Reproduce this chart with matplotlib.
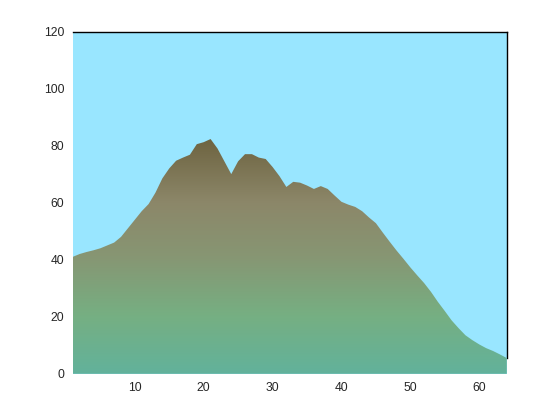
import numpy as np
import matplotlib.pyplot as plt
from matplotlib.colors import LinearSegmentedColormap
from matplotlib.patches import Polygon

# terrain profile
x = np.arange(1, 65)
height = [41, 42, 42.7, 43.3, 44, 45, 46, 48, 51, 54,
          57, 59.5, 63.5, 68.5, 72, 74.7, 75.8, 76.8, 80.5, 81.2,
          82.3, 79, 74.5, 70, 74.5, 77, 77, 75.8, 75.3, 72.5,
          69.3, 65.5, 67.3, 67, 66, 64.8, 65.8, 64.8, 62.5, 60.3,
          59.3, 58.5, 57, 54.8, 52.8, 49.5, 46.3, 43.2, 40.3, 37.3,
          34.5, 31.8, 28.7, 25.2, 22, 18.7, 16, 13.5, 11.8, 10.3,
          9, 8, 6.8, 5.5]
xticks = [10, 20, 30, 40, 50, 60]
yticks = [0, 20, 40, 60, 80, 100, 120]

sky = '#99e6ff'
ground = LinearSegmentedColormap.from_list('ground', [
    (0.0, (98/255, 178/255, 155/255)),
    (0.25, (118/255, 175/255, 130/255)),
    (0.5, (135/255, 150/255, 115/255)),
    (0.73, (140/255, 135/255, 105/255)),
    (1.0, (110/255, 100/255, 65/255)),
])

plt.rcParams['font.family'] = ['Liberation Sans', 'DejaVu Sans']
fig = plt.figure(figsize=(5.6, 4.2), dpi=100)
ax = fig.add_axes([0.13, 0.11, 0.775, 0.815])
ax.set_facecolor(sky)

ymax_fill = max(height)
grad = np.linspace(0, 1, 256).reshape(-1, 1)
img = ax.imshow(grad, cmap=ground, origin='lower', aspect='auto',
                extent=[x[0], x[-1], 0, ymax_fill], zorder=3,
                interpolation='bilinear')
verts = [(x[0], 0)] + list(zip(x, height)) + [(x[-1], 0)]
clip = Polygon(verts, closed=True, transform=ax.transData)
img.set_clip_path(clip)

ax.set_xlim(1, 64)
ax.set_ylim(0, 120)
ax.set_xticks(xticks)
ax.set_yticks(yticks)
ax.tick_params(length=0, labelsize=8.7, labelcolor='#262626', pad=6)
ax.spines['left'].set_visible(False)
ax.spines['bottom'].set_visible(False)
for s in ('top', 'right'):
    ax.spines[s].set_linewidth(1.0)
# the terrain hides the lower part of the right edge
ax.spines['right'].set_bounds(height[-1], 120)

fig.savefig('out.png', dpi=100)
